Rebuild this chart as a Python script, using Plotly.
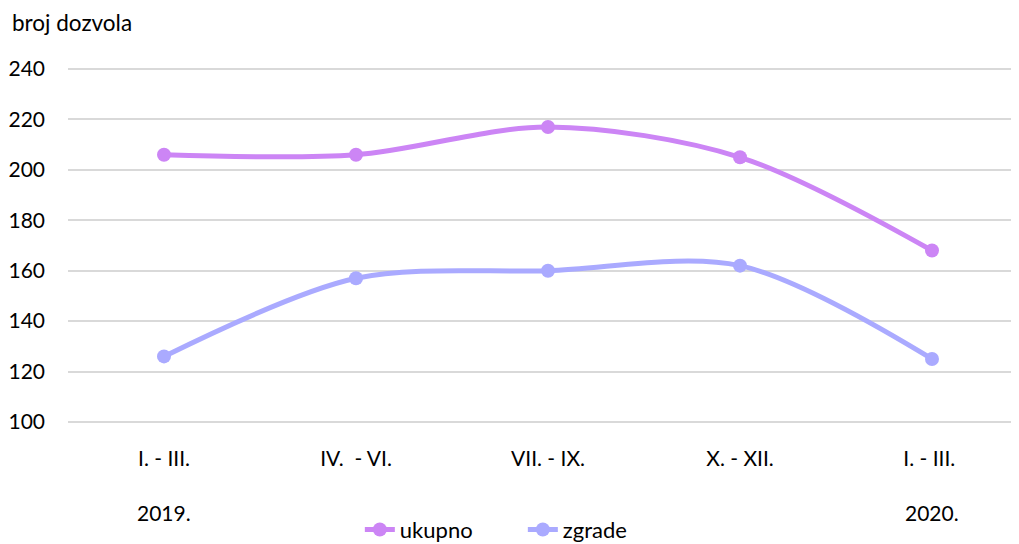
import plotly.graph_objects as go

categories = ["I. - III.", "IV.  - VI.", "VII. - IX.", "X. - XII.", "I. - III. "]
years = ["2019.", "", "", "", "2020."]
ukupno = [206, 206, 217, 205, 168]
zgrade = [126, 157, 160, 162, 125]
y_ticks = [100, 120, 140, 160, 180, 200, 220, 240]

FONT = "Lato, Open Sans, sans-serif"
fig = go.Figure()
fig.add_trace(go.Scatter(x=categories, y=ukupno, name="ukupno", mode="lines+markers",
                         line=dict(color="#CC85F5", width=5, shape="spline", smoothing=0.9),
                         marker=dict(size=14, color="#CC85F5")))
fig.add_trace(go.Scatter(x=categories, y=zgrade, name="zgrade", mode="lines+markers",
                         line=dict(color="#AAAAFF", width=5, shape="spline", smoothing=0.9),
                         marker=dict(size=14, color="#AAAAFF")))

for i, yr in enumerate(years):
    if yr:
        fig.add_annotation(x=categories[i], y=0, yref="paper", yanchor="middle", yshift=-85,
                           text=yr, showarrow=False,
                           font=dict(size=21, color="#000000", family=FONT))

fig.add_annotation(x=0, xref="paper", xanchor="left", y=1, yref="paper", yanchor="bottom",
                   xshift=-58, yshift=26, text="broj dozvola", showarrow=False,
                   font=dict(size=22.5, color="#000000", family=FONT))

fig.update_layout(
    width=1020, height=536,
    margin=dict(l=60, r=0, t=56, b=117, autoexpand=False),
    paper_bgcolor="white", plot_bgcolor="white",
    font=dict(family=FONT, size=21, color="#000000"),
    showlegend=True,
    legend=dict(orientation="h", x=0.304, xanchor="left", y=-0.283, yanchor="middle",
                font=dict(size=22), entrywidth=118, entrywidthmode="pixels",
                tracegroupgap=0),
    xaxis=dict(type="category", range=[-0.5, 4.5], showgrid=False, zeroline=False,
               showline=False, ticks="", ticklabelstandoff=17, fixedrange=True),
    yaxis=dict(range=[98, 242], tickvals=y_ticks, showgrid=True, gridcolor="#D9D9D9",
               gridwidth=1.5, zeroline=False, showline=False, ticks="",
               ticklabelstandoff=22, fixedrange=True),
)
fig.write_html("out.html")
